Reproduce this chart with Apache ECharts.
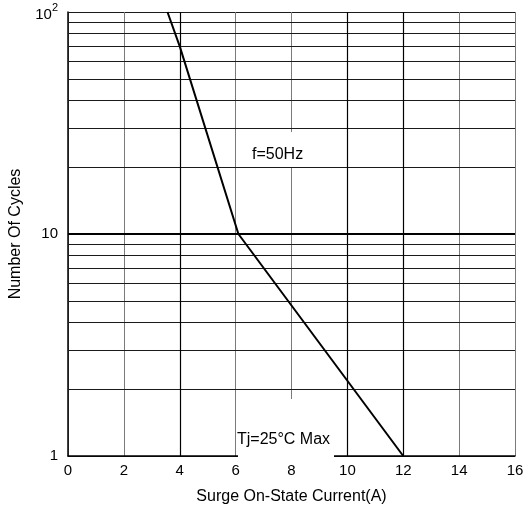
<!DOCTYPE html>
<html>
<head>
<meta charset="utf-8">
<script src="https://cdn.jsdelivr.net/npm/echarts@6/dist/echarts.min.js"></script>
<style>
html,body{margin:0;padding:0;background:#fff;}
#chart{width:527px;height:510px;}
</style>
</head>
<body>
<div id="chart"></div>
<script>
// Data
const currentA = [3.56, 4.0, 6.1, 12.0];
const cycles = [100, 70, 10, 1];
const minorCycleLines = [2, 3, 4, 5, 6, 7, 8, 9, 20, 30, 40, 50, 60, 70, 80, 90];
const boldCycleLines = [10];
const darkCurrentLines = [4, 10, 12];
const xTitle = 'Surge On-State Current(A)';
const yTitle = 'Number Of Cycles';
const noteFreq = 'f=50Hz';
const noteTemp = 'Tj=25°C Max';

const FONT = '"Liberation Sans", Arial, sans-serif';
const chart = echarts.init(document.getElementById('chart'), null, {renderer: 'canvas'});

const lineData = currentA.map((x, i) => [x, cycles[i]]);

chart.setOption({
  animation: false,
  backgroundColor: '#fff',
  grid: {left: 66, right: 12, top: 12, bottom: 47, containLabel: false},
  xAxis: {
    type: 'value', min: 0, max: 16, interval: 2,
    name: xTitle, nameLocation: 'middle', nameGap: 33,
    nameTextStyle: {fontFamily: FONT, fontSize: 16, color: '#000'},
    axisLine: {show: true, lineStyle: {color: '#000', width: 1.5}},
    axisTick: {show: false},
    axisLabel: {fontFamily: FONT, fontSize: 15, color: '#000', margin: 7},
    splitLine: {show: true, lineStyle: {color: '#7a7a7a', width: 1}}
  },
  yAxis: {
    type: 'log', min: 1, max: 100, logBase: 10,
    name: yTitle, nameLocation: 'middle', nameGap: 44,
    nameTextStyle: {fontFamily: FONT, fontSize: 16, color: '#000'},
    axisLine: {show: true, lineStyle: {color: '#000', width: 1.5}},
    axisTick: {show: false},
    axisLabel: {
      fontFamily: FONT, fontSize: 15, color: '#000', margin: 10,
      formatter: function (v) { return v === 100 ? '{base|10}{sup|2}' : String(v); },
      rich: {
        base: {fontFamily: FONT, fontSize: 15, color: '#000', lineHeight: 20, verticalAlign: 'bottom'},
        sup: {fontFamily: FONT, fontSize: 11, color: '#000', verticalAlign: 'top'}
      }
    },
    splitLine: {show: true, lineStyle: {color: '#1a1a1a', width: 1}},
    minorTick: {show: false},
    minorSplitLine: {show: false}
  },
  series: [
    {
      type: 'line', data: [], silent: true,
      markLine: {
        silent: true, symbol: 'none', animation: false,
        label: {show: false},
        lineStyle: {type: 'solid', color: '#1a1a1a', width: 1},
        data: minorCycleLines.map(v => ({yAxis: v}))
          .concat(boldCycleLines.map(v => ({yAxis: v, lineStyle: {width: 2.2, color: '#000'}})))
          .concat(darkCurrentLines.map(v => ({xAxis: v, lineStyle: {width: 1.2, color: '#000'}})))
      }
    },
    {
      type: 'line', data: lineData, showSymbol: false, symbol: 'none',
      lineStyle: {color: '#000', width: 2}, z: 5, silent: true
    }
  ],
  graphic: [
    {type: 'rect', z: 100, shape: {x: 246, y: 132, width: 62, height: 35}, style: {fill: '#fff'}},
    {type: 'text', z: 101, x: 252, y: 155, style: {text: noteFreq, font: '16px ' + FONT, fill: '#000', verticalAlign: 'middle', align: 'left'}},
    {type: 'rect', z: 100, shape: {x: 238, y: 399, width: 96, height: 62}, style: {fill: '#fff'}},
    {type: 'text', z: 101, x: 237, y: 440, style: {text: noteTemp, font: '16px ' + FONT, fill: '#000', verticalAlign: 'middle', align: 'left'}}
  ]
});
</script>
</body>
</html>
